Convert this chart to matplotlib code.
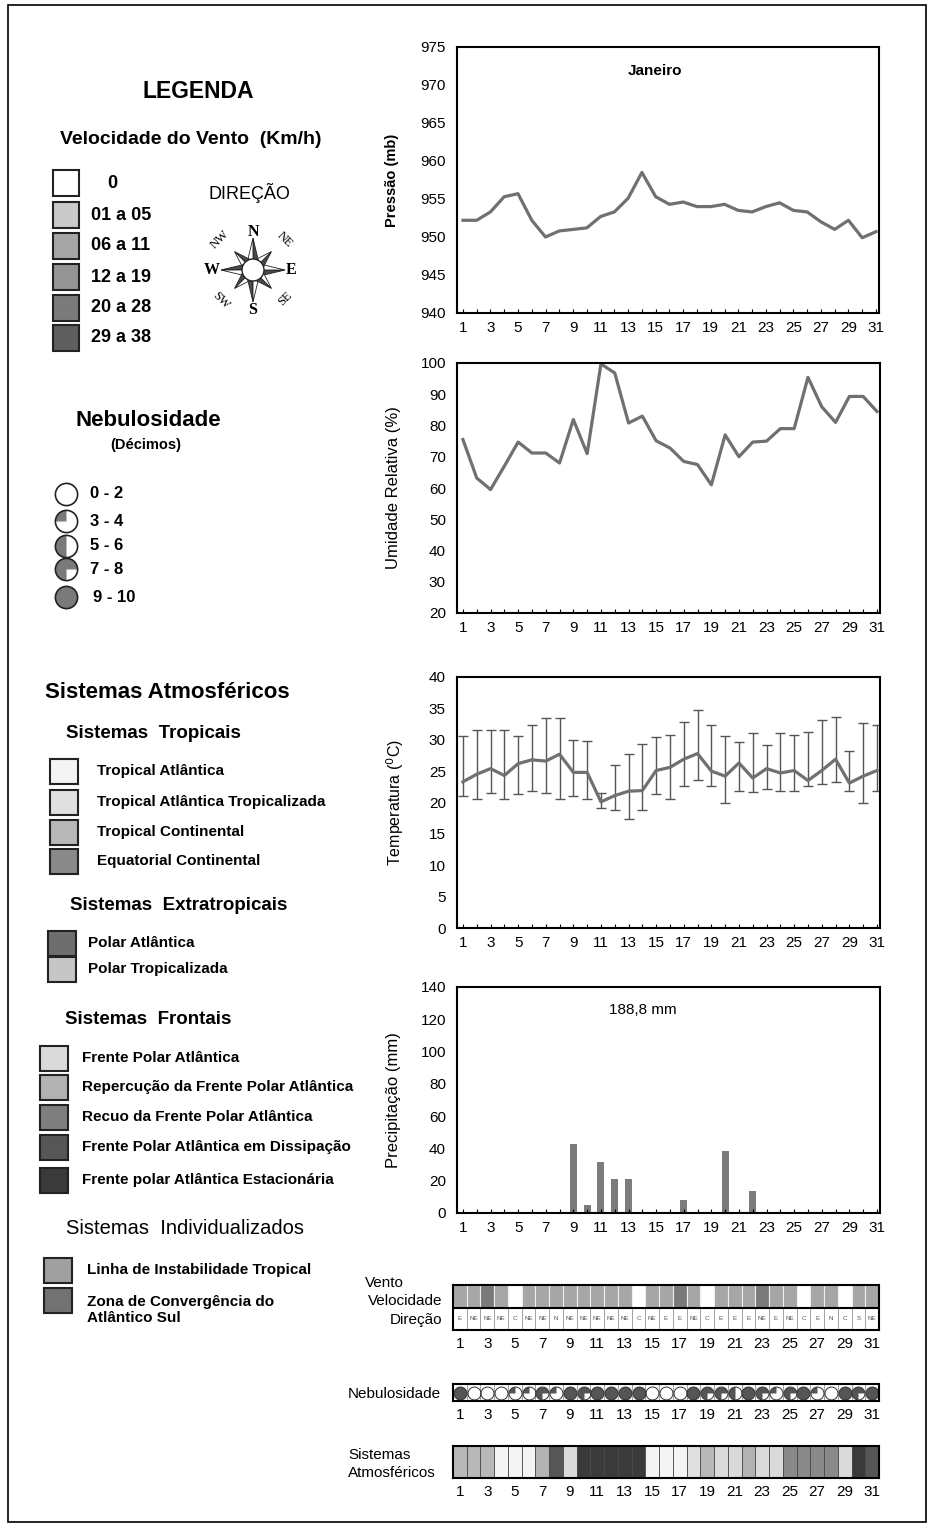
import matplotlib
matplotlib.use("Agg")
import matplotlib.pyplot as plt
from matplotlib.patches import Rectangle, Polygon, Circle
from matplotlib.path import Path
import numpy as np

plt.rcParams['font.family'] = ['Liberation Sans', 'DejaVu Sans']

# ---- data ----
days = list(range(1, 32))
pressao = [952.2, 952.2, 953.3, 955.3, 955.7, 952.2, 950.0, 950.8, 951.0, 951.2,
           952.7, 953.3, 955.1, 958.5, 955.3, 954.3, 954.6, 954.0, 954.0, 954.3,
           953.5, 953.3, 954.0, 954.5, 953.5, 953.3, 952.0, 951.0, 952.2, 949.9, 950.7]
umidade = [75.5, 63.2, 59.5, 67, 74.7, 71.2, 71.2, 68, 81.9, 71, 99.7, 96.8, 80.8, 83,
           75.1, 72.8, 68.5, 67.5, 61, 77, 70, 74.7, 75, 79, 79, 95.4, 86, 81, 89.3, 89.3, 84.5]
temp_med = [23.3, 24.5, 25.4, 24.3, 26.2, 26.8, 26.6, 27.7, 24.8, 24.8, 20.1, 21.1, 21.8,
            21.9, 25.1, 25.6, 26.9, 27.8, 25.0, 24.2, 26.3, 23.9, 25.4, 24.7, 25.1, 23.5,
            25.1, 26.9, 23.1, 24.2, 25.1]
temp_max = [30.6, 31.5, 31.6, 31.6, 30.6, 32.4, 33.4, 33.4, 30.0, 29.8, 21.5, 25.9, 27.7,
            29.4, 30.4, 30.7, 32.9, 34.7, 32.3, 30.6, 29.7, 31.1, 29.2, 31.0, 30.7, 31.3,
            33.1, 33.6, 28.2, 32.6, 32.3]
temp_min = [21.0, 20.5, 21.5, 20.6, 21.4, 21.8, 21.5, 20.5, 21.0, 20.5, 19.1, 18.8, 17.4,
            18.8, 21.4, 20.6, 22.6, 23.6, 22.6, 19.9, 21.8, 21.6, 22.2, 21.8, 21.8, 22.7,
            23.0, 23.3, 21.8, 20.0, 21.9]
precip = [0, 0, 0, 0, 0, 0, 0, 0, 42.7, 5.0, 31.4, 21.3, 21.3, 0, 0, 0, 8.3, 0, 0, 38.2,
          0, 13.8, 0, 0, 0, 0, 0, 0, 0, 0, 0]

vento_vel = [2, 2, 4, 2, 0, 2, 2, 2, 2, 2, 2, 2, 2, 0, 2, 2, 4, 2, 0, 2, 2, 2, 4, 2, 2, 0,
             2, 2, 0, 2, 2]
vento_dir = ['E', 'NE', 'NE', 'NE', 'C', 'NE', 'NE', 'N', 'NE', 'NE', 'NE', 'NE', 'NE', 'C',
             'NE', 'E', 'E', 'NE', 'C', 'E', 'E', 'E', 'NE', 'E', 'NE', 'C', 'E', 'N', 'C',
             'S', 'NE']
nebul = [4, 0, 0, 0, 1, 1, 3, 1, 4, 3, 4, 4, 4, 4, 0, 0, 0, 4, 3, 3, 2, 4, 3, 1, 3, 4, 1,
         0, 4, 3, 4]
sistema_dia = ['TC', 'TC', 'TC', 'TA', 'TA', 'TA', 'RFPA', 'FPAD', 'FPA', 'FPAE', 'FPAE',
               'FPAE', 'FPAE', 'FPAE', 'TA', 'TA', 'TA', 'TAT', 'TC', 'FPA', 'FPA', 'RFPA',
               'FPA', 'FPA', 'EC', 'EC', 'EC', 'EC', 'FPA', 'FPAE', 'FPAD']

vel_labels = ['0', '01 a 05', '06 a 11', '12 a 19', '20 a 28', '29 a 38']
vel_colors = ['#ffffff', '#cacaca', '#a6a6a6', '#949494', '#7a7a7a', '#5e5e5e']
nebul_labels = ['0 - 2', '3 - 4', '5 - 6', '7 - 8', '9 - 10']
sis_colors = {'TA': '#f4f4f4', 'TAT': '#e0e0e0', 'TC': '#b8b8b8', 'EC': '#8a8a8a',
              'PA': '#6e6e6e', 'PT': '#c6c6c6', 'FPA': '#dadada', 'RFPA': '#b2b2b2',
              'RcFPA': '#7e7e7e', 'FPAD': '#565656', 'FPAE': '#3a3a3a', 'LIT': '#a0a0a0',
              'ZCAS': '#727272'}
tropicais = [('TA', 'Tropical Atlântica'), ('TAT', 'Tropical Atlântica Tropicalizada'),
             ('TC', 'Tropical Continental'), ('EC', 'Equatorial Continental')]
extratropicais = [('PA', 'Polar Atlântica'), ('PT', 'Polar Tropicalizada')]
frontais = [('FPA', 'Frente Polar Atlântica'), ('RFPA', 'Repercução da Frente Polar Atlântica'),
            ('RcFPA', 'Recuo da Frente Polar Atlântica'),
            ('FPAD', 'Frente Polar Atlântica em Dissipação'),
            ('FPAE', 'Frente polar Atlântica Estacionária')]
individualizados = [('LIT', 'Linha de Instabilidade Tropical'),
                    ('ZCAS', 'Zona de Convergência do\nAtlântico Sul')]

LINE = '#707070'
W, H = 934, 1527
fig = plt.figure(figsize=(W / 100, H / 100), dpi=100)


def px_axes(x0, y0, x1, y1):
    return fig.add_axes([x0 / W, 1 - y1 / H, (x1 - x0) / W, (y1 - y0) / H])


# overlay in pixel coordinates for the legend panel
lg = fig.add_axes([0, 0, 1, 1])
lg.set_xlim(0, W)
lg.set_ylim(H, 0)
lg.axis('off')
lg.add_patch(Rectangle((8, 5), 918, 1517, fill=False, ec='black', lw=1.2))

# cloud cover symbols: filled part of the circle for each class
cloud_markers = [None, Path.wedge(90, 180), Path.wedge(90, 270), Path.wedge(0, 270), 'o']


# ---- charts ----
def style(ax, label, lx, size, bold=False):
    ax.set_xlim(0.57, 31.22)
    ax.set_xticks(days)
    ax.set_xticklabels([str(d) if d % 2 else '' for d in days])
    ax.tick_params(axis='x', direction='in', length=3, labelsize=11, pad=6)
    ax.tick_params(axis='y', length=0, labelsize=11, pad=8)
    for s in ax.spines.values():
        s.set_linewidth(1.5)
    ax.set_ylabel(label, fontsize=size, fontweight='bold' if bold else 'normal')
    ax.yaxis.set_label_coords(lx, 0.5)


ax1 = px_axes(457, 47, 879, 313)
ax1.plot(days, pressao, color=LINE, lw=2.3)
ax1.set_ylim(940, 975)
ax1.set_yticks(range(940, 976, 5))
style(ax1, 'Pressão (mb)', -0.137, 10.5, bold=True)
ax1.text(0.47, 0.91, 'Janeiro', transform=ax1.transAxes, ha='center', va='center',
         fontsize=11, fontweight='bold')

ax2 = px_axes(457, 363, 880, 613)
ax2.plot(days, umidade, color=LINE, lw=2.3)
ax2.set_ylim(20, 100)
ax2.set_yticks(range(20, 101, 10))
style(ax2, 'Umidade Relativa (%)', -0.133, 12)

ax3 = px_axes(457, 677, 880, 928)
yerr = [np.array(temp_med) - np.array(temp_min), np.array(temp_max) - np.array(temp_med)]
ax3.errorbar(days, temp_med, yerr=yerr, color=LINE, lw=2.3, ecolor='#555555',
             elinewidth=1, capsize=3.5, capthick=1)
ax3.set_ylim(0, 40)
ax3.set_yticks(range(0, 41, 5))
style(ax3, r'Temperatura ($^{0}$C)', -0.12, 11.5)

ax4 = px_axes(457, 987, 880, 1213)
ax4.bar(days, precip, width=0.5, color='#7c7c7c')
ax4.set_ylim(0, 140)
ax4.set_yticks(range(0, 141, 20))
style(ax4, 'Precipitação (mm)', -0.133, 12)
ax4.text(0.44, 0.9, '188,8 mm', transform=ax4.transAxes, ha='center', va='center',
         fontsize=11)


def strip_axes(ax):
    ax.set_xlim(0.5, 31.5)
    ax.set_xticks([d for d in days if d % 2])
    ax.set_xticklabels([str(d) for d in days if d % 2])
    ax.set_yticks([])
    ax.tick_params(axis='x', length=0, labelsize=11, pad=5)
    for s in ax.spines.values():
        s.set_linewidth(1.5)


# wind strip
axw = px_axes(453, 1285, 879, 1330)
axw.bar(days, [1] * 31, bottom=1, width=1, color=[vel_colors[c] for c in vento_vel],
        edgecolor='#eeeeee', lw=0.8)
axw.bar(days, [1] * 31, bottom=0, width=1, color='white', edgecolor='#9a9a9a', lw=0.6)
for d, t in zip(days, vento_dir):
    axw.text(d, 0.5, t, ha='center', va='center', fontsize=4.5, color='#555555')
axw.axhline(1, color='black', lw=1.5)
axw.set_ylim(0, 2)
strip_axes(axw)
lg.text(365, 1283, 'Vento', ha='left', va='center', fontsize=11)
lg.text(442, 1301, 'Velocidade', ha='right', va='center', fontsize=11)
lg.text(442, 1320, 'Direção', ha='right', va='center', fontsize=11)

# cloud strip
axn = px_axes(453, 1384, 879, 1401)
axn.bar(days, [1] * 31, width=1, color='white', edgecolor='#8a8a8a', lw=0.5)
for d, c in zip(days, nebul):
    if c > 0:
        axn.plot(d, 0.5, marker=cloud_markers[c], markersize=9.3, color='#555555',
                 markeredgewidth=0)
    axn.plot(d, 0.5, marker='o', markersize=9.3, markerfacecolor='none',
             markeredgecolor='#333333', markeredgewidth=0.7)
axn.set_ylim(0, 1)
strip_axes(axn)
lg.text(348, 1394, 'Nebulosidade', ha='left', va='center', fontsize=11)

# systems strip
axs = px_axes(453, 1446, 879, 1478)
axs.bar(days, [1] * 31, width=1, color=[sis_colors[s] for s in sistema_dia],
        edgecolor='#4a4a4a', lw=0.6)
axs.set_ylim(0, 1)
strip_axes(axs)
lg.text(348, 1455, 'Sistemas', ha='left', va='center', fontsize=11)
lg.text(348, 1473, 'Atmosféricos', ha='left', va='center', fontsize=11)

# ---- legend panel ----
lg.text(198, 91, 'LEGENDA', ha='center', va='center', fontsize=16.5, fontweight='bold')
lg.text(191, 139, 'Velocidade do Vento  (Km/h)', ha='center', va='center', fontsize=14,
        fontweight='bold')
vel_y = [183, 215, 246, 277, 308, 338]
for i, (lab, col) in enumerate(zip(vel_labels, vel_colors)):
    lg.add_patch(Rectangle((53, vel_y[i] - 13), 26, 26, fc=col, ec='#222222', lw=1.5))
    if i == 0:
        lg.text(112, vel_y[i], lab, ha='center', va='center', fontsize=13, fontweight='bold')
    else:
        lg.text(91, vel_y[i], lab, ha='left', va='center', fontsize=13, fontweight='bold')

lg.text(249, 193, 'DIREÇÃO', ha='center', va='center', fontsize=13)
cx, cy = 253, 270
for ang in range(0, 360, 45):
    L = 32 if ang % 90 == 0 else 26
    a = np.radians(ang)
    u = np.array([np.cos(a), -np.sin(a)])
    p = np.array([-u[1], u[0]])
    c = np.array([cx, cy])
    tip = c + L * u
    base = c + 9 * u
    lg.add_patch(Polygon([c, tip, base + 5.5 * p], closed=True, fc='#4a4a4a', ec='#222222', lw=0.6))
    lg.add_patch(Polygon([c, tip, base - 5.5 * p], closed=True, fc='white', ec='#222222', lw=0.6))
lg.add_patch(Circle((cx, cy), 11, fc='white', ec='#222222', lw=1))
serif = ['Liberation Serif', 'DejaVu Serif']
for t, x, y in [('N', 253, 232), ('S', 253, 310), ('E', 291, 270), ('W', 212, 270)]:
    lg.text(x, y, t, ha='center', va='center', fontsize=11.5, fontweight='bold', family=serif)
for t, x, y, r in [('NE', 285, 240, -45), ('NW', 220, 240, 45), ('SE', 285, 299, 45),
                   ('SW', 221, 301, -45)]:
    lg.text(x, y, t, ha='center', va='center', fontsize=9, family=serif, rotation=r)

lg.text(148, 420, 'Nebulosidade', ha='center', va='center', fontsize=16, fontweight='bold')
lg.text(146, 445, '(Décimos)', ha='center', va='center', fontsize=10.5, fontweight='bold')
neb_y = [494, 521, 546, 569, 597]
for i, lab in enumerate(nebul_labels):
    if i > 0:
        lg.plot(66, neb_y[i], marker=cloud_markers[i], markersize=16, color='#7a7a7a',
                markeredgewidth=0)
    lg.plot(66, neb_y[i], marker='o', markersize=16, markerfacecolor='none',
            markeredgecolor='#222222', markeredgewidth=1.2)
    lg.text(90 if i < 4 else 93, neb_y[i], lab, ha='left', va='center', fontsize=12,
            fontweight='bold')

lg.text(45, 692, 'Sistemas Atmosféricos', ha='left', va='center', fontsize=16,
        fontweight='bold')


def legend_group(title, tx, ty, items, bx, ys, lx, tweight='bold', tsize=13.5):
    lg.text(tx, ty, title, ha='left', va='center', fontsize=tsize, fontweight=tweight)
    for (code, lab), y in zip(items, ys):
        lg.add_patch(Rectangle((bx, y - 12), 28, 25, fc=sis_colors[code], ec='#222222', lw=1.5))
        lg.text(lx, y if '\n' not in lab else y + 10, lab, ha='left', va='center',
                fontsize=11, fontweight='bold', linespacing=1.25)


legend_group('Sistemas  Tropicais', 66, 733, tropicais, 50, [771, 802, 832, 861], 97)
legend_group('Sistemas  Extratropicais', 70, 905, extratropicais, 48, [943, 969], 88)
legend_group('Sistemas  Frontais', 65, 1020, frontais, 40, [1058, 1087, 1117, 1147, 1180], 82)
legend_group('Sistemas  Individualizados', 66, 1229, individualizados, 44, [1270, 1300], 87,
             tweight='normal', tsize=14.5)

fig.savefig('out.png', dpi=100)
